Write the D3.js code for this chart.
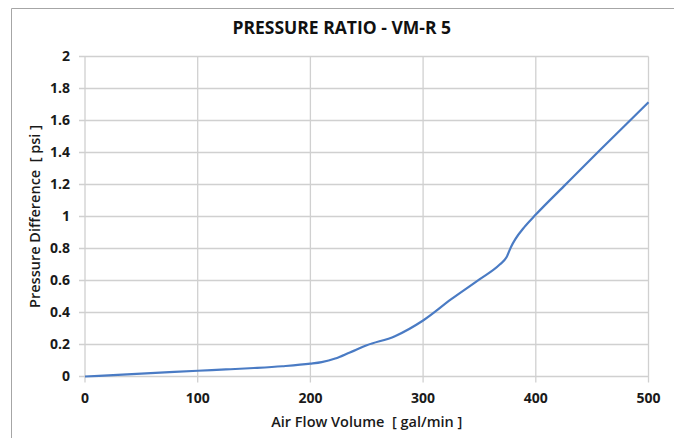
<!DOCTYPE html>
<html>
<head>
<meta charset="utf-8">
<script src="https://cdn.jsdelivr.net/npm/d3@7"></script>
<style>
  body { margin: 0; background: #fff; }
  svg { display: block; font-family: "Open Sans", "Noto Sans", sans-serif; }
</style>
</head>
<body>
<div id="chart"></div>
<script>
// Data
const flow = [0, 25, 50, 75, 100, 125, 150, 175, 200, 210, 222, 235, 250, 275, 300, 325, 350, 368, 374, 378, 382, 390, 400, 425, 457, 480, 500];
const pressure = [0, 0.009, 0.018, 0.027, 0.036, 0.044, 0.053, 0.064, 0.080, 0.090, 0.112, 0.150, 0.195, 0.252, 0.350, 0.483, 0.607, 0.700, 0.745, 0.810, 0.860, 0.935, 1.012, 1.19, 1.416, 1.575, 1.714];
const xTicks = [0, 100, 200, 300, 400, 500];
const yTicks = [0, 0.2, 0.4, 0.6, 0.8, 1, 1.2, 1.4, 1.6, 1.8, 2];

const W = 674, H = 438;
const margin = { top: 56.5, right: 25.5, bottom: 61.5, left: 85 };

const svg = d3.select("#chart").append("svg")
    .attr("width", W)
    .attr("height", H);

// outer chart frame (only left/top visible in the crop)
svg.append("path")
    .attr("d", `M11.5 ${H} V8.5 H${W}`)
    .attr("fill", "none")
    .attr("stroke", "#a6a6a6")
    .attr("stroke-width", 1);

const x = d3.scaleLinear().domain([0, 500]).range([margin.left, W - margin.right]);
const y = d3.scaleLinear().domain([0, 2]).range([H - margin.bottom, margin.top]);

// gridlines (vertical, with short tick below the axis)
svg.append("g")
    .selectAll("line")
    .data(xTicks)
    .join("line")
    .attr("x1", d => x(d)).attr("x2", d => x(d))
    .attr("y1", y(2)).attr("y2", y(0) + 6)
    .attr("stroke", "#d0d0d0")
    .attr("stroke-width", 1.3);

// gridlines (horizontal, with short tick left of the axis)
svg.append("g")
    .selectAll("line")
    .data(yTicks)
    .join("line")
    .attr("x1", x(0) - 6).attr("x2", x(500))
    .attr("y1", d => y(d)).attr("y2", d => y(d))
    .attr("stroke", "#d0d0d0")
    .attr("stroke-width", 1.3);

// tick labels
svg.append("g")
    .selectAll("text")
    .data(xTicks)
    .join("text")
    .attr("x", d => x(d))
    .attr("y", y(0) + 26)
    .attr("text-anchor", "middle")
    .attr("font-size", 14)
    .attr("font-weight", "bold")
    .attr("fill", "#1a1a1a")
    .text(d => d);

svg.append("g")
    .selectAll("text")
    .data(yTicks)
    .join("text")
    .attr("x", x(0) - 15)
    .attr("y", d => y(d))
    .attr("dy", "0.35em")
    .attr("text-anchor", "end")
    .attr("font-size", 14)
    .attr("font-weight", "bold")
    .attr("fill", "#1a1a1a")
    .text(d => d);

// title and axis labels
svg.append("text")
    .attr("x", (x(0) + x(500)) / 2 - 25)
    .attr("y", 34)
    .attr("text-anchor", "middle")
    .attr("font-size", 17.5)
    .attr("font-weight", "bold")
    .attr("fill", "#111")
    .text("PRESSURE RATIO - VM-R 5");

svg.append("text")
    .attr("x", (x(0) + x(500)) / 2)
    .attr("y", 427)
    .attr("text-anchor", "middle")
    .attr("font-size", 14.5)
    .attr("font-weight", 600)
    .attr("fill", "#1a1a1a")
    .attr("xml:space", "preserve")
    .text("Air Flow Volume  [ gal/min ]");

svg.append("text")
    .attr("transform", `translate(40,${(y(0) + y(2)) / 2}) rotate(-90)`)
    .attr("text-anchor", "middle")
    .attr("font-size", 14.5)
    .attr("font-weight", 600)
    .attr("fill", "#1a1a1a")
    .attr("xml:space", "preserve")
    .text("Pressure Difference  [ psi ]");

// the curve
const data = flow.map((f, i) => ({ x: f, y: pressure[i] }));
const line = d3.line()
    .x(d => x(d.x))
    .y(d => y(d.y))
    .curve(d3.curveMonotoneX);

svg.append("path")
    .datum(data)
    .attr("d", line)
    .attr("fill", "none")
    .attr("stroke", "#4a7bc4")
    .attr("stroke-width", 2.2);
</script>
</body>
</html>
